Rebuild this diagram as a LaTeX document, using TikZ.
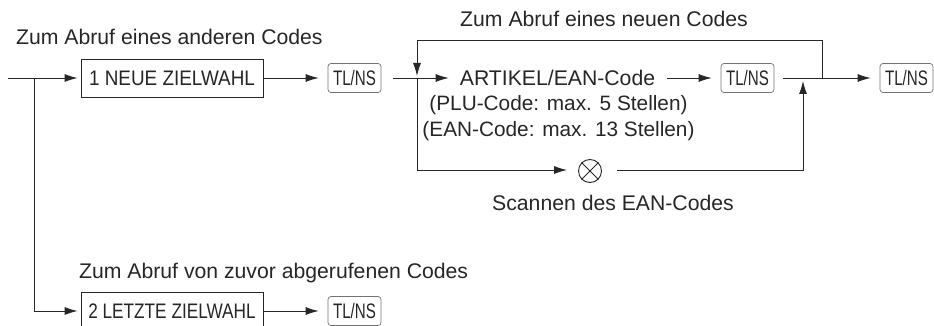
\documentclass[tikz,border=0pt]{standalone}
\usepackage{fontspec}
\setmainfont{Liberation Sans}
\usetikzlibrary{arrows.meta}
\tikzset{
	flow/.style={line width=0.9pt, color=black!85},
	flowarrow/.style={flow, -{Latex[length=13pt,width=8pt]}},
	menubox/.style={draw=black!85, line width=0.9pt, minimum width=182pt, minimum height=38pt, inner sep=0pt, font=\fontsize{21}{24}\selectfont, text=black!85},
	tlkey/.style={draw=black!55, line width=0.7pt, rounded corners=3pt, minimum width=53pt, minimum height=29pt, inner sep=0pt, text=black!85},
	caption/.style={inner sep=0pt, font=\fontsize{21.2}{24}\selectfont, text=black!85},
	codeline/.style={caption, anchor=base, font=\fontsize{20.8}{24}\selectfont}
}
\newcommand{\tlns}{\scalebox{0.72}[1]{\fontsize{21}{24}\selectfont TL/NS}}
\begin{document}
\begin{tikzpicture}[x=1pt, y=-1pt]
	\useasboundingbox (0,0) rectangle (934,326);
	\clip (0,0) rectangle (934,326);
	% upper row
	\coordinate (start) at (8,78);
	\coordinate (split) at (34,78);
	\node[menubox] (neue) at (172,78) {\scalebox{0.9}[1]{1 NEUE ZIELWAHL}};
	\node[tlkey] (keyA) at (354.5,78) {\tlns};
	\node[caption, anchor=base west] (anderen) at (16,45) {Zum Abruf eines anderen Codes};
	\draw[flowarrow, shorten >=3pt] (start) -- (neue.west);
	\draw[flowarrow, shorten >=9pt] (neue.east) -- (keyA.west);
	% article row
	\coordinate (keyAout) at (393,78);
	\coordinate (loopin) at (417,78);
	\node[caption, anchor=base] (artikel) at (557.5,86) {ARTIKEL/EAN-Code};
	\node[codeline] (plu) at (558.5,111) {(PLU-Code: max. 5 Stellen)};
	\node[codeline] (ean) at (558.5,137) {(EAN-Code: max. 13 Stellen)};
	\node[tlkey] (keyB) at (747.5,78) {\tlns};
	\node[tlkey] (keyC) at (906.5,78) {\tlns};
	\node[caption, anchor=base] (neuen) at (604,26.5) {Zum Abruf eines neuen Codes};
	\draw[flowarrow, shorten >=11pt] (keyAout) -- (artikel.west |- loopin);
	\draw[flowarrow, shorten >=9pt, shorten <=12pt] (artikel.east |- loopin) -- (keyB.west);
	\coordinate (keyBout) at (783,78);
	\coordinate (loopout) at (822,78);
	\coordinate (merge) at (803,78);
	\draw[flow] (keyBout) -- (loopout);
	\draw[flowarrow, shorten >=9pt] (loopout) -- (keyC.west);
	\draw[flowarrow, shorten >=2pt] (loopout) -- (822,40) -- (417,40) -- (loopin);
	% scan row
	\node[draw=black!85, line width=0.9pt, circle, minimum size=23pt, inner sep=0pt] (scan) at (590,171) {};
	\draw[flow] (scan.north west) -- (scan.south east) (scan.north east) -- (scan.south west);
	\node[caption, anchor=base] (scannen) at (613,210) {Scannen des EAN-Codes};
	\coordinate (scanin) at (417,170);
	\draw[flowarrow, shorten >=11pt] (loopin) -- (scanin) -- (scan.west |- scanin);
	\draw[flowarrow, shorten >=3pt] (617,170) -- (803,170) -- (merge);
	% lower row
	\node[menubox] (letzte) at (172,311) {\scalebox{0.82}[1]{2 LETZTE ZIELWAHL}};
	\node[tlkey] (keyD) at (354.5,311) {\tlns};
	\node[caption, anchor=base west] (zuvor) at (79,278) {Zum Abruf von zuvor abgerufenen Codes};
	\draw[flowarrow, shorten >=3pt] (split) -- (34,311) -- (letzte.west);
	\draw[flowarrow, shorten >=9pt] (letzte.east) -- (keyD.west);
\end{tikzpicture}
\end{document}
